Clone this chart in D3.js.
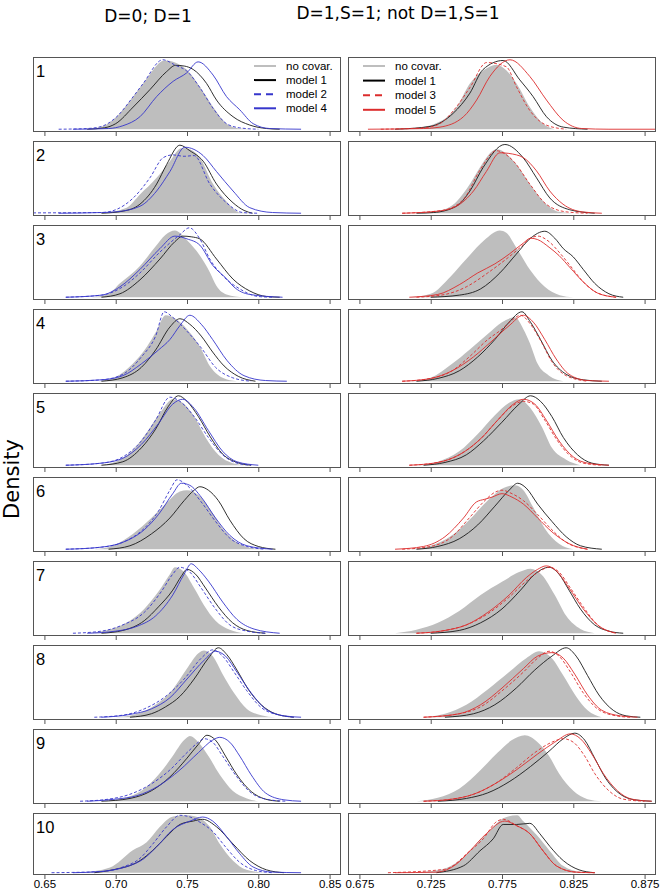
<!DOCTYPE html>
<html><head><meta charset="utf-8">
<script src="https://cdn.jsdelivr.net/npm/d3@7"></script>
<style>body{margin:0;background:#fff}svg{display:block}</style>
</head><body><svg id="c" width="662" height="892"></svg>
<script>
// ---------------- DATA ----------------
const leftTicks = [0.65, 0.70, 0.75, 0.80, 0.85];
const rightTicks = [0.675, 0.725, 0.775, 0.825, 0.875];
const panelLabels = ["1","2","3","4","5","6","7","8","9","10"];
const columnTitles = ["D=0; D=1", "D=1,S=1; not D=1,S=1"];
const leftLegend = ["no covar.", "model 1", "model 2", "model 4"];
const rightLegend = ["no covar.", "model 1", "model 3", "model 5"];
const yLabel = "Density";

// relative density (100 = panel maximum), points [x, density]
const leftNone = [
 [[0.676,0],[0.689,3],[0.7007,18],[0.7123,47],[0.7193,66],[0.7345,99],[0.7497,86],[0.759,61],[0.7683,32],[0.7777,8],[0.787,1],[0.795,0]],
 [[0.690,0],[0.7077,8],[0.717,27],[0.7287,51],[0.738,75],[0.7462,94],[0.752,92],[0.759,80],[0.7683,42],[0.7777,17],[0.787,1],[0.795,0]],
 [[0.683,0],[0.695,5],[0.703,20],[0.717,45],[0.7275,72],[0.735,90],[0.7415,96],[0.75,82],[0.759,60],[0.766,36],[0.7707,16],[0.7777,4],[0.79,0]],
 [[0.688,0],[0.70,6],[0.712,25],[0.722,50],[0.728,70],[0.735,95],[0.742,90],[0.75,75],[0.759,50],[0.766,22],[0.775,5],[0.785,0]],
 [[0.688,0],[0.70,5],[0.712,22],[0.722,48],[0.732,78],[0.740,95],[0.748,88],[0.755,70],[0.763,40],[0.772,15],[0.782,3],[0.792,0]],
 [[0.685,0],[0.698,5],[0.712,22],[0.725,45],[0.735,65],[0.745,83],[0.75,85],[0.758,78],[0.766,58],[0.775,30],[0.785,10],[0.797,1],[0.805,0]],
 [[0.68,0],[0.695,5],[0.71,18],[0.72,35],[0.73,60],[0.738,85],[0.7415,95],[0.748,88],[0.755,65],[0.762,40],[0.77,18],[0.78,5],[0.79,0]],
 [[0.70,0],[0.715,5],[0.728,18],[0.74,40],[0.75,70],[0.758,92],[0.762,96],[0.768,88],[0.775,62],[0.783,35],[0.792,12],[0.802,3],[0.812,0]],
 [[0.692,0],[0.705,4],[0.718,15],[0.73,38],[0.74,65],[0.748,88],[0.752,94],[0.758,85],[0.765,65],[0.773,38],[0.782,15],[0.792,4],[0.80,0]],
 [[0.675,0],[0.696,9],[0.712,39],[0.7217,53],[0.731,80],[0.7403,98],[0.75,100],[0.759,95],[0.766,80],[0.773,50],[0.7823,21],[0.7917,5],[0.805,0]]
];
const leftM1 = [
 [[0.68,0],[0.692,2],[0.70,8],[0.7123,32],[0.724,57],[0.7357,83],[0.742,92],[0.748,91],[0.7544,86],[0.7637,66],[0.7707,42],[0.7823,18],[0.794,6],[0.8057,1],[0.815,0]],
 [[0.69,0],[0.7052,3],[0.717,13],[0.7287,42],[0.7357,70],[0.745,98],[0.752,90],[0.7613,75],[0.7707,42],[0.7823,15],[0.79,4],[0.796,0]],
 [[0.69,0],[0.703,5],[0.717,25],[0.731,55],[0.7415,80],[0.747,88],[0.753,87],[0.759,84],[0.7707,55],[0.7823,26],[0.794,9],[0.8057,1],[0.815,0]],
 [[0.69,0],[0.705,5],[0.718,20],[0.728,45],[0.738,78],[0.745,90],[0.752,82],[0.76,65],[0.768,42],[0.776,22],[0.786,7],[0.798,0]],
 [[0.69,0],[0.705,5],[0.718,25],[0.728,52],[0.737,85],[0.744,100],[0.75,92],[0.758,70],[0.766,42],[0.775,16],[0.785,4],[0.795,0]],
 [[0.695,0],[0.71,5],[0.725,22],[0.738,45],[0.748,70],[0.755,85],[0.759,90],[0.765,85],[0.772,70],[0.78,42],[0.79,15],[0.80,4],[0.812,0]],
 [[0.69,0],[0.705,4],[0.72,18],[0.73,38],[0.74,62],[0.746,82],[0.75,92],[0.756,85],[0.763,65],[0.772,38],[0.782,15],[0.792,4],[0.805,0]],
 [[0.71,0],[0.725,5],[0.735,15],[0.745,30],[0.755,55],[0.765,85],[0.772,100],[0.778,90],[0.785,68],[0.793,40],[0.802,18],[0.812,5],[0.825,0]],
 [[0.69,0],[0.71,4],[0.725,15],[0.738,35],[0.75,62],[0.758,82],[0.764,95],[0.77,88],[0.777,65],[0.785,38],[0.795,14],[0.805,3],[0.815,0]],
 [[0.685,0],[0.698,5],[0.717,21],[0.726,39],[0.7357,63],[0.745,84],[0.7544,90],[0.761,93],[0.7707,80],[0.7823,50],[0.794,21],[0.8057,5],[0.818,0]]
];
const leftM2 = [
 [[0.66,0],[0.68,1],[0.69,4],[0.7007,18],[0.7123,47],[0.7193,66],[0.733,100],[0.742,92],[0.7497,84],[0.759,60],[0.7683,30],[0.7777,8],[0.787,2],[0.80,0]],
 [[0.642,0.5],[0.69,1],[0.70,5],[0.7123,22],[0.724,51],[0.7333,80],[0.74,84],[0.748,82],[0.755,83],[0.766,42],[0.7777,15],[0.789,1],[0.80,0]],
 [[0.665,0],[0.69,3],[0.705,15],[0.717,35],[0.731,65],[0.745,90],[0.7516,100],[0.759,84],[0.766,55],[0.775,31],[0.787,12],[0.80,1],[0.81,0]],
 [[0.665,0],[0.69,2],[0.705,10],[0.718,35],[0.728,65],[0.734,100],[0.74,92],[0.75,72],[0.76,48],[0.77,20],[0.782,5],[0.795,0]],
 [[0.665,0],[0.69,3],[0.705,12],[0.718,35],[0.728,65],[0.738,98],[0.745,92],[0.755,70],[0.765,40],[0.775,15],[0.785,3],[0.795,0]],
 [[0.665,0],[0.69,3],[0.705,10],[0.72,30],[0.73,55],[0.738,85],[0.743,100],[0.75,92],[0.76,68],[0.77,40],[0.78,16],[0.792,4],[0.805,0]],
 [[0.67,0],[0.69,3],[0.705,12],[0.72,30],[0.732,60],[0.74,85],[0.745,95],[0.752,88],[0.76,65],[0.77,35],[0.78,12],[0.792,3],[0.805,0]],
 [[0.685,0],[0.705,3],[0.72,12],[0.735,30],[0.748,55],[0.76,85],[0.768,97],[0.775,88],[0.783,65],[0.792,38],[0.802,14],[0.815,3],[0.825,0]],
 [[0.675,0],[0.695,3],[0.71,10],[0.725,25],[0.738,45],[0.75,70],[0.758,85],[0.762,90],[0.768,85],[0.775,65],[0.785,35],[0.795,12],[0.808,2],[0.82,0]],
 [[0.655,0],[0.69,2],[0.705,10],[0.717,25],[0.726,50],[0.7357,80],[0.745,100],[0.7522,97],[0.759,88],[0.768,72],[0.777,45],[0.787,18],[0.798,4],[0.81,0]]
];
const leftM4 = [
 [[0.67,0],[0.695,1],[0.705,5],[0.717,18],[0.7287,47],[0.7403,69],[0.7497,81],[0.7578,97],[0.7683,78],[0.7777,47],[0.787,28],[0.7964,8],[0.808,1],[0.83,0]],
 [[0.66,0],[0.69,1],[0.70,2],[0.717,10],[0.7287,32],[0.738,60],[0.7485,95],[0.7613,83],[0.7707,60],[0.7823,32],[0.794,8],[0.81,1],[0.83,0]],
 [[0.665,0],[0.69,3],[0.703,15],[0.717,40],[0.731,70],[0.7415,88],[0.75,84],[0.759,75],[0.768,46],[0.778,26],[0.7823,16],[0.794,4],[0.817,0]],
 [[0.665,0],[0.69,2],[0.705,8],[0.718,25],[0.73,45],[0.738,60],[0.745,80],[0.752,95],[0.76,82],[0.768,60],[0.778,30],[0.79,8],[0.805,1],[0.82,0]],
 [[0.665,0],[0.69,3],[0.705,10],[0.718,30],[0.73,60],[0.74,88],[0.747,95],[0.755,82],[0.765,50],[0.775,20],[0.785,5],[0.80,0]],
 [[0.665,0],[0.69,3],[0.705,10],[0.72,28],[0.73,50],[0.74,80],[0.746,95],[0.752,92],[0.76,75],[0.77,45],[0.78,20],[0.792,5],[0.81,0]],
 [[0.68,0],[0.70,3],[0.715,10],[0.728,25],[0.74,55],[0.748,85],[0.753,100],[0.758,92],[0.765,75],[0.775,45],[0.785,20],[0.797,6],[0.815,0]],
 [[0.69,0],[0.71,4],[0.725,12],[0.738,28],[0.75,55],[0.762,82],[0.77,95],[0.777,88],[0.785,65],[0.795,35],[0.805,12],[0.818,2],[0.83,0]],
 [[0.68,0],[0.70,3],[0.715,8],[0.73,22],[0.745,45],[0.758,70],[0.768,88],[0.773,92],[0.78,85],[0.787,65],[0.795,38],[0.805,12],[0.818,2],[0.83,0]],
 [[0.67,0],[0.689,2],[0.717,20],[0.7287,45],[0.74,75],[0.7522,90],[0.761,97],[0.768,90],[0.7777,63],[0.787,33],[0.7963,10],[0.81,1],[0.83,0]]
];
const rightNone = [
 [[0.705,0],[0.7127,1],[0.7315,11],[0.7432,32],[0.7525,66],[0.762,85],[0.7712,93],[0.778,85],[0.7852,66],[0.7945,32],[0.8038,8],[0.812,0]],
 [[0.715,0],[0.73,3],[0.7432,17],[0.7525,42],[0.7595,66],[0.7712,92],[0.7852,70],[0.7945,42],[0.804,17],[0.815,2],[0.825,0]],
 [[0.71,0],[0.725,5],[0.739,30],[0.75,55],[0.7625,82],[0.7735,96],[0.778,93],[0.784,75],[0.7945,40],[0.805,15],[0.8155,3],[0.825,0]],
 [[0.71,0],[0.725,5],[0.74,25],[0.752,45],[0.765,68],[0.775,85],[0.784,92],[0.79,75],[0.7945,55],[0.80,25],[0.808,8],[0.818,0]],
 [[0.715,0],[0.73,5],[0.745,20],[0.758,45],[0.77,72],[0.78,90],[0.787,95],[0.795,82],[0.803,55],[0.81,25],[0.82,8],[0.83,0]],
 [[0.71,0],[0.725,5],[0.74,20],[0.752,42],[0.765,70],[0.776,88],[0.784,92],[0.79,85],[0.797,60],[0.805,30],[0.815,8],[0.825,0]],
 [[0.70,0],[0.715,5],[0.73,15],[0.745,32],[0.76,55],[0.775,74],[0.787,88],[0.795,93],[0.803,84],[0.812,55],[0.82,25],[0.83,6],[0.84,0]],
 [[0.72,0],[0.735,5],[0.75,18],[0.765,40],[0.78,65],[0.792,85],[0.801,95],[0.81,85],[0.818,60],[0.827,30],[0.835,10],[0.845,0]],
 [[0.715,0],[0.73,5],[0.745,18],[0.76,45],[0.772,70],[0.782,88],[0.791,95],[0.80,85],[0.808,65],[0.815,40],[0.825,15],[0.835,3],[0.845,0]],
 [[0.7105,0],[0.7315,5],[0.748,27],[0.7572,50],[0.7665,73],[0.7758,95],[0.7857,100],[0.7898,90],[0.7992,66],[0.8085,38],[0.8178,12],[0.831,1],[0.84,0]]
];
const rightM1 = [
 [[0.70,0],[0.7245,4],[0.7408,23],[0.7525,52],[0.7617,86],[0.7758,99],[0.7875,71],[0.7968,47],[0.8062,18],[0.818,3],[0.835,0]],
 [[0.715,0],[0.727,1],[0.743,10],[0.7525,32],[0.7618,66],[0.777,99],[0.7898,80],[0.7992,51],[0.8085,22],[0.8225,5],[0.84,0]],
 [[0.725,0],[0.745,3],[0.76,12],[0.7735,35],[0.785,62],[0.795,85],[0.805,95],[0.812,85],[0.818,70],[0.825,58],[0.832,40],[0.84,20],[0.85,5],[0.86,0]],
 [[0.715,0],[0.73,4],[0.745,15],[0.758,35],[0.77,60],[0.78,85],[0.789,100],[0.795,85],[0.802,60],[0.81,30],[0.82,10],[0.832,2],[0.845,0]],
 [[0.72,0],[0.735,4],[0.75,15],[0.762,35],[0.775,62],[0.787,88],[0.795,100],[0.802,92],[0.81,70],[0.818,40],[0.828,15],[0.838,3],[0.85,0]],
 [[0.715,0],[0.73,4],[0.745,15],[0.758,35],[0.77,62],[0.78,85],[0.786,95],[0.792,88],[0.80,65],[0.81,40],[0.82,18],[0.83,5],[0.845,0]],
 [[0.725,0],[0.745,4],[0.76,15],[0.775,35],[0.788,62],[0.798,85],[0.808,95],[0.815,85],[0.822,62],[0.83,35],[0.84,12],[0.85,3],[0.86,0]],
 [[0.735,0],[0.755,5],[0.77,18],[0.785,42],[0.798,68],[0.81,88],[0.82,100],[0.827,88],[0.835,60],[0.843,32],[0.853,10],[0.862,2],[0.872,0]],
 [[0.73,0],[0.75,4],[0.765,12],[0.78,28],[0.795,50],[0.808,72],[0.818,90],[0.826,98],[0.833,88],[0.84,62],[0.848,32],[0.858,10],[0.868,2],[0.88,0]],
 [[0.729,0],[0.748,12],[0.7595,38],[0.7688,59],[0.7758,84],[0.7852,84],[0.7945,86],[0.8015,68],[0.8085,46],[0.818,21],[0.829,5],[0.84,0]]
];
const rightM3 = [
 [[0.69,0],[0.72,2],[0.7315,8],[0.741,27],[0.7525,60],[0.7642,96],[0.778,90],[0.7852,61],[0.7945,27],[0.806,6],[0.82,0]],
 [[0.705,0],[0.733,4],[0.748,20],[0.7595,62],[0.771,90],[0.783,75],[0.7945,42],[0.806,13],[0.82,2],[0.835,0]],
 [[0.715,0],[0.735,4],[0.75,15],[0.765,35],[0.778,55],[0.788,72],[0.795,85],[0.80,88],[0.808,80],[0.815,65],[0.823,45],[0.832,22],[0.842,6],[0.855,0]],
 [[0.705,0],[0.725,4],[0.74,15],[0.752,35],[0.765,60],[0.775,75],[0.782,88],[0.788,95],[0.795,82],[0.803,55],[0.81,28],[0.82,8],[0.835,0]],
 [[0.71,0],[0.73,4],[0.745,15],[0.76,38],[0.772,65],[0.782,85],[0.79,92],[0.797,88],[0.805,65],[0.813,38],[0.822,15],[0.832,3],[0.845,0]],
 [[0.705,0],[0.725,4],[0.74,18],[0.752,45],[0.762,68],[0.77,82],[0.775,85],[0.782,80],[0.79,70],[0.80,50],[0.81,28],[0.82,10],[0.835,0]],
 [[0.715,0],[0.735,4],[0.75,12],[0.765,28],[0.78,52],[0.792,75],[0.802,90],[0.808,95],[0.815,88],[0.823,65],[0.832,38],[0.842,12],[0.855,0]],
 [[0.72,0],[0.745,5],[0.76,15],[0.775,38],[0.79,65],[0.80,85],[0.808,95],[0.815,88],[0.823,65],[0.832,35],[0.842,12],[0.855,2],[0.865,0]],
 [[0.72,0],[0.74,3],[0.755,10],[0.77,25],[0.785,48],[0.798,70],[0.81,85],[0.818,90],[0.825,85],[0.833,65],[0.84,40],[0.85,15],[0.86,3],[0.875,0]],
 [[0.695,0],[0.735,6],[0.7525,38],[0.7618,59],[0.7712,89],[0.776,93],[0.7852,82],[0.7945,68],[0.8038,38],[0.8131,12],[0.827,1],[0.84,0]]
];
const rightM5 = [
 [[0.681,0],[0.72,1],[0.7315,3],[0.748,18],[0.7572,42],[0.7665,76],[0.7806,100],[0.7945,76],[0.8062,42],[0.8178,13],[0.831,1],[0.85,0],[0.883,0]],
 [[0.705,0],[0.73,3],[0.743,10],[0.755,32],[0.764,60],[0.7735,87],[0.7852,84],[0.79,80],[0.7992,61],[0.8085,32],[0.8178,13],[0.831,2],[0.845,0]],
 [[0.71,0],[0.73,4],[0.745,18],[0.758,35],[0.77,48],[0.78,62],[0.79,78],[0.795,85],[0.80,83],[0.808,72],[0.815,60],[0.823,42],[0.832,22],[0.842,6],[0.855,0]],
 [[0.705,0],[0.725,4],[0.74,15],[0.755,35],[0.768,58],[0.78,80],[0.79,95],[0.797,85],[0.805,60],[0.813,32],[0.822,10],[0.835,1],[0.85,0]],
 [[0.71,0],[0.73,4],[0.745,15],[0.76,38],[0.772,65],[0.783,88],[0.79,95],[0.798,88],[0.806,65],[0.815,35],[0.825,12],[0.835,3],[0.85,0]],
 [[0.70,0],[0.72,4],[0.735,18],[0.748,45],[0.757,68],[0.763,72],[0.768,75],[0.775,80],[0.782,75],[0.79,65],[0.80,45],[0.81,25],[0.822,8],[0.835,0]],
 [[0.715,0],[0.735,4],[0.75,12],[0.765,30],[0.78,55],[0.792,80],[0.80,92],[0.806,97],[0.813,90],[0.822,65],[0.832,35],[0.842,12],[0.855,0]],
 [[0.72,0],[0.745,5],[0.76,18],[0.775,42],[0.79,70],[0.80,88],[0.81,93],[0.818,85],[0.826,62],[0.835,32],[0.845,10],[0.858,2],[0.87,0]],
 [[0.72,0],[0.74,3],[0.755,10],[0.77,25],[0.785,45],[0.80,68],[0.812,85],[0.823,97],[0.83,90],[0.838,68],[0.846,40],[0.856,15],[0.866,3],[0.88,0]],
 [[0.70,0],[0.729,1],[0.743,15],[0.7525,38],[0.764,68],[0.777,90],[0.7852,82],[0.7945,68],[0.8038,38],[0.8131,12],[0.827,1],[0.84,0]]
];

// ---------------- LAYOUT ----------------
const W = 662, H = 892;
const svg = d3.select("#c");
svg.append("rect").attr("width", W).attr("height", H).attr("fill", "#fff");

const GREY = "#bebebe", BLACK = "#1a1a1a", BLUE = "#3636cc", RED = "#dc2c2c";
const columns = [
  { x0: 33, x1: 341, ticks: leftTicks, fmt: d3.format(".2f"),
    series: [leftNone, leftM1, leftM2, leftM4], color: BLUE, legend: leftLegend,
    legX: 254, legY: 66, legDy: 14.1, titleX: 148, titleY: 22 },
  { x0: 348, x1: 656, ticks: rightTicks, fmt: d3.format(".3f"),
    series: [rightNone, rightM1, rightM3, rightM5], color: RED, legend: rightLegend,
    legX: 363, legY: 66, legDy: 14.6, titleX: 398, titleY: 19 }
];
const panelTop = i => 57 + i * 84;
const panelBottom = i => (i < 9 ? panelTop(i) + 75 : 875);

const defs = svg.append("defs");

columns.forEach((col, ci) => {
  const lo = d3.min(col.ticks), hi = d3.max(col.ticks), pad = (hi - lo) * 0.04;
  const x = d3.scaleLinear().domain([lo - pad, hi + pad]).range([col.x0, col.x1]);

  svg.append("text").attr("x", col.titleX).attr("y", col.titleY)
    .attr("text-anchor", "middle").attr("font-family", "DejaVu Sans, Verdana, sans-serif")
    .attr("font-size", 17).attr("fill", "#000").text(columnTitles[ci]);

  for (let i = 0; i < 10; i++) {
    const top = panelTop(i), bot = panelBottom(i);
    const y = d3.scaleLinear().domain([-4, 104]).range([bot, top]);
    const cid = `clip${ci}_${i}`;
    defs.append("clipPath").attr("id", cid).append("rect")
      .attr("x", col.x0).attr("y", top).attr("width", col.x1 - col.x0).attr("height", bot - top);
    const g = svg.append("g").attr("clip-path", `url(#${cid})`);

    const area = d3.area().x(d => x(d[0])).y0(y(0)).y1(d => y(d[1])).curve(d3.curveMonotoneX);
    const line = d3.line().x(d => x(d[0])).y(d => y(d[1])).curve(d3.curveMonotoneX);

    g.append("path").datum(col.series[0][i]).attr("d", area).attr("fill", GREY);
    g.append("path").datum(col.series[1][i]).attr("d", line).attr("fill", "none")
      .attr("stroke", BLACK).attr("stroke-width", 0.9);
    g.append("path").datum(col.series[2][i]).attr("d", line).attr("fill", "none")
      .attr("stroke", col.color).attr("stroke-width", 0.9).attr("stroke-dasharray", "3,2");
    g.append("path").datum(col.series[3][i]).attr("d", line).attr("fill", "none")
      .attr("stroke", col.color).attr("stroke-width", 0.9);

    svg.append("rect").attr("x", col.x0 + 0.5).attr("y", top + 0.5)
      .attr("width", col.x1 - col.x0 - 1).attr("height", bot - top - 1)
      .attr("fill", "none").attr("stroke", "#555").attr("stroke-width", 1);

    const ax = svg.append("g").attr("transform", `translate(0,${bot})`)
      .call(d3.axisBottom(x).tickValues(col.ticks).tickSize(4)
        .tickFormat(i === 9 ? col.fmt : () => ""));
    ax.select(".domain").remove();
    ax.selectAll(".tick line").attr("stroke", "#555");
    ax.selectAll(".tick text").attr("font-family", "Liberation Sans, Arial, sans-serif")
      .attr("font-size", 11.5).attr("fill", "#000").attr("dy", "0.55em");

    if (ci === 0) {
      svg.append("text").attr("x", 36).attr("y", top + 20)
        .attr("font-family", "Liberation Sans, Arial, sans-serif").attr("font-size", 16.5)
        .attr("fill", "#000").text(panelLabels[i]);
    }
  }

  // legend inside first panel
  const legStyles = [
    { c: GREY, dash: null }, { c: "#000", dash: null },
    { c: col.color, dash: "7,5" }, { c: col.color, dash: null }
  ];
  col.legend.forEach((t, k) => {
    const yy = col.legY + k * col.legDy;
    svg.append("line").attr("x1", col.legX).attr("x2", col.legX + 22)
      .attr("y1", yy).attr("y2", yy).attr("stroke", legStyles[k].c)
      .attr("stroke-width", 2).attr("stroke-dasharray", legStyles[k].dash);
    svg.append("text").attr("x", col.legX + 32).attr("y", yy).attr("dy", "0.36em")
      .attr("font-family", "Liberation Sans, Arial, sans-serif").attr("font-size", 11.5)
      .attr("fill", "#000").text(t);
  });
});

svg.append("text").attr("transform", "translate(19,479) rotate(-90)")
  .attr("text-anchor", "middle").attr("font-family", "DejaVu Sans, Verdana, sans-serif")
  .attr("font-size", 21).attr("fill", "#000").text(yLabel);
</script></body></html>
